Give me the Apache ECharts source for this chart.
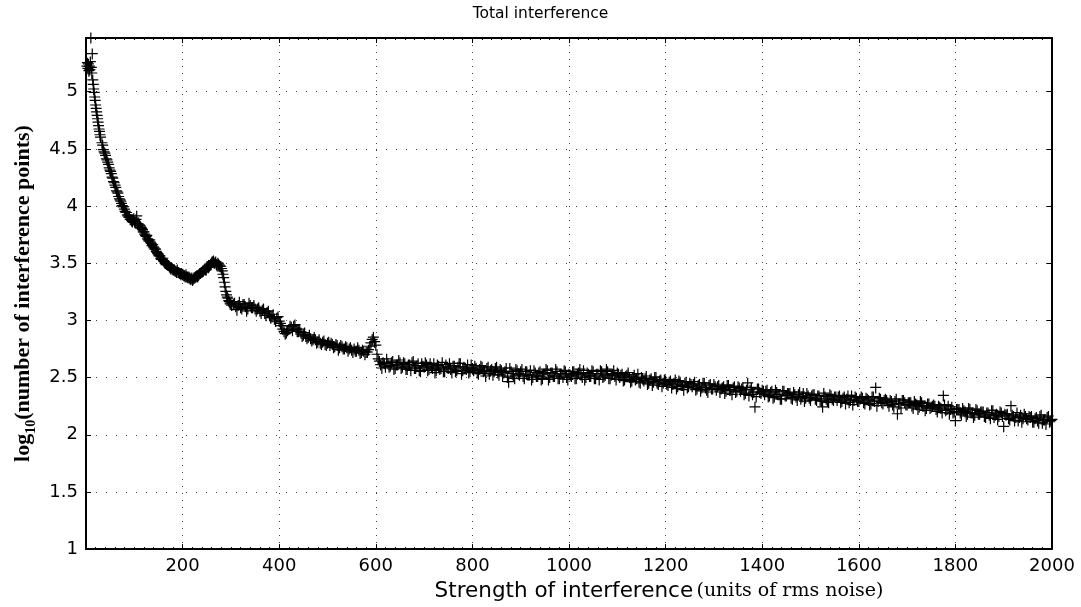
<!DOCTYPE html>
<html><head><meta charset="utf-8">
<script src="https://cdn.jsdelivr.net/npm/echarts@6/dist/echarts.min.js"></script>
<style>html,body{margin:0;padding:0;background:#fff}#c{width:1081px;height:607px}</style>
</head><body><div id="c"></div><script>
// x sampling grids (start, step) for the digitised segments
const xStartA = 2,     stepA = 1;
const xStartB = 33,    stepB = 3;
const xStartE = 34.5,  stepE = 3;
const xStartC = 305,   stepC = 5;
const xStartD = 307.5, stepD = 5;

// log10(number of interference points)
const yA = [
  5.22, 5.25, 5.20, 5.24, 5.18, 5.22, 5.19, 5.26, 5.47, 5.21,
  5.16, 5.33, 5.10, 5.06, 5.02, 4.99, 4.95, 4.92, 4.88, 4.85,
  4.82, 4.79, 4.76, 4.73, 4.70, 4.67, 4.65, 4.62, 4.60
];
const yB = [
  4.55, 4.49, 4.46, 4.41, 4.38, 4.33, 4.30, 4.25, 4.21, 4.18,
  4.13, 4.11, 4.06, 4.04, 4.00, 3.99, 3.95, 3.94, 3.91, 3.90,
  3.88, 3.86, 3.89, 3.85, 3.91, 3.84, 3.83, 3.81, 3.79, 3.77,
  3.74, 3.74, 3.70, 3.70, 3.67, 3.66, 3.63, 3.62, 3.59, 3.57,
  3.56, 3.53, 3.54, 3.51, 3.50, 3.49, 3.48, 3.46, 3.46, 3.44,
  3.44, 3.43, 3.44, 3.42, 3.41, 3.41, 3.40, 3.39, 3.40, 3.38,
  3.38, 3.36, 3.37, 3.36, 3.37, 3.38, 3.38, 3.40, 3.41, 3.42,
  3.43, 3.45, 3.44, 3.47, 3.47, 3.49, 3.51, 3.52, 3.50, 3.49,
  3.50, 3.48, 3.47, 3.43, 3.37, 3.29, 3.22, 3.19, 3.16, 3.15
];
const yE = [
  4.53, 4.47, 4.44, 4.40, 4.36, 4.31, 4.28, 4.24, 4.20, 4.16,
  4.12, 4.08, 4.05, 4.02, 3.99, 3.97, 3.94, 3.92, 3.90, 3.88,
  3.87, 3.88, 3.86, 3.88, 3.84, 3.83, 3.82, 3.80, 3.77, 3.75,
  3.73, 3.71, 3.69, 3.68, 3.65, 3.64, 3.62, 3.60, 3.58, 3.56,
  3.54, 3.53, 3.52, 3.50, 3.49, 3.48, 3.47, 3.45, 3.45, 3.44,
  3.43, 3.42, 3.42, 3.41, 3.40, 3.40, 3.39, 3.38, 3.38, 3.37,
  3.37, 3.36, 3.35, 3.37, 3.38, 3.39, 3.39, 3.41, 3.42, 3.43,
  3.44, 3.44, 3.46, 3.46, 3.48, 3.50, 3.51, 3.50, 3.51, 3.48,
  3.49, 3.47, 3.45, 3.40, 3.33, 3.25, 3.20, 3.17, 3.14, 3.13
];
const yC = [
  3.14, 3.12, 3.13, 3.11, 3.14, 3.12, 3.10, 3.13, 3.11, 3.10,
  3.10, 3.08, 3.09, 3.06, 3.07, 3.04, 3.03, 3.01, 3.02, 2.99,
  2.95, 2.90, 2.89, 2.92, 2.94, 2.95, 2.92, 2.90, 2.89, 2.87,
  2.86, 2.85, 2.84, 2.83, 2.83, 2.81, 2.80, 2.81, 2.79, 2.80,
  2.78, 2.79, 2.77, 2.78, 2.76, 2.77, 2.75, 2.76, 2.75, 2.74,
  2.75, 2.73, 2.74, 2.72, 2.73, 2.72, 2.74, 2.80, 2.85, 2.78,
  2.66, 2.61, 2.63, 2.59, 2.62, 2.60, 2.64, 2.58, 2.61, 2.63,
  2.59, 2.62, 2.57, 2.61, 2.63, 2.58, 2.60, 2.56, 2.62, 2.59,
  2.61, 2.57, 2.59, 2.62, 2.56, 2.60, 2.58, 2.55, 2.61, 2.58,
  2.57, 2.60, 2.55, 2.59, 2.62, 2.56, 2.58, 2.61, 2.55, 2.58,
  2.60, 2.54, 2.57, 2.59, 2.56, 2.58, 2.53, 2.57, 2.55, 2.59,
  2.52, 2.56, 2.54, 2.58, 2.46, 2.55, 2.51, 2.57, 2.53, 2.55,
  2.51, 2.55, 2.52, 2.56, 2.50, 2.54, 2.51, 2.55, 2.49, 2.53,
  2.56, 2.50, 2.54, 2.51, 2.55, 2.49, 2.53, 2.56, 2.50, 2.53,
  2.51, 2.55, 2.49, 2.54, 2.52, 2.56, 2.50, 2.53, 2.51, 2.55,
  2.49, 2.53, 2.56, 2.50, 2.52, 2.55, 2.49, 2.53, 2.51, 2.54,
  2.50, 2.53, 2.48, 2.52, 2.50, 2.47, 2.52, 2.49, 2.46, 2.50,
  2.47, 2.51, 2.45, 2.49, 2.46, 2.50, 2.44, 2.48, 2.45, 2.47,
  2.43, 2.47, 2.44, 2.48, 2.42, 2.46, 2.43, 2.45, 2.41, 2.45,
  2.42, 2.46, 2.40, 2.44, 2.41, 2.45, 2.39, 2.43, 2.40, 2.44,
  2.39, 2.43, 2.40, 2.42, 2.38, 2.43, 2.39, 2.41, 2.37, 2.42,
  2.38, 2.41, 2.36, 2.45, 2.39, 2.35, 2.24, 2.40, 2.37, 2.39,
  2.35, 2.39, 2.34, 2.38, 2.33, 2.37, 2.35, 2.31, 2.38, 2.34,
  2.36, 2.32, 2.37, 2.33, 2.35, 2.31, 2.36, 2.32, 2.34, 2.30,
  2.35, 2.31, 2.34, 2.30, 2.24, 2.33, 2.29, 2.35, 2.31, 2.33,
  2.30, 2.34, 2.29, 2.33, 2.31, 2.28, 2.34, 2.30, 2.32, 2.29,
  2.33, 2.28, 2.32, 2.30, 2.27, 2.33, 2.41, 2.29, 2.31, 2.27,
  2.31, 2.28, 2.30, 2.26, 2.29, 2.18, 2.27, 2.30, 2.28, 2.26,
  2.28, 2.25, 2.29, 2.26, 2.24, 2.28, 2.25, 2.23, 2.27, 2.24,
  2.26, 2.22, 2.25, 2.23, 2.34, 2.21, 2.25, 2.22, 2.19, 2.12,
  2.22, 2.19, 2.23, 2.20, 2.18, 2.22, 2.19, 2.17, 2.21, 2.18,
  2.20, 2.16, 2.19, 2.17, 2.21, 2.15, 2.18, 2.16, 2.19, 2.07,
  2.17, 2.14, 2.25, 2.16, 2.15, 2.12, 2.17, 2.14, 2.16, 2.13,
  2.15, 2.11, 2.14, 2.12, 2.16, 2.10, 2.13, 2.15, 2.11, 2.13
];
const yD = [
  3.15, 3.09, 3.16, 3.10, 3.14, 3.08, 3.15, 3.11, 3.13, 3.08,
  3.11, 3.06, 3.10, 3.04, 3.08, 3.02, 3.05, 2.99, 3.03, 2.97,
  2.92, 2.88, 2.91, 2.95, 2.91, 2.96, 2.90, 2.92, 2.86, 2.89,
  2.84, 2.87, 2.82, 2.85, 2.80, 2.83, 2.79, 2.82, 2.78, 2.81,
  2.80, 2.76, 2.79, 2.74, 2.78, 2.75, 2.77, 2.73, 2.76, 2.72,
  2.73, 2.76, 2.71, 2.74, 2.70, 2.72, 2.77, 2.83, 2.81, 2.70,
  2.64, 2.58, 2.62, 2.66, 2.59, 2.63, 2.57, 2.61, 2.65, 2.58,
  2.63, 2.57, 2.61, 2.56, 2.64, 2.58, 2.62, 2.55, 2.60, 2.63,
  2.56, 2.62, 2.58, 2.54, 2.61, 2.57, 2.63, 2.55, 2.59, 2.62,
  2.54, 2.60, 2.56, 2.62, 2.53, 2.59, 2.57, 2.54, 2.61, 2.56,
  2.58, 2.53, 2.60, 2.55, 2.51, 2.59, 2.56, 2.52, 2.58, 2.54,
  2.57, 2.51, 2.55, 2.50, 2.58, 2.53, 2.49, 2.56, 2.52, 2.57,
  2.49, 2.55, 2.52, 2.48, 2.56, 2.51, 2.54, 2.48, 2.53, 2.57,
  2.48, 2.54, 2.51, 2.57, 2.49, 2.53, 2.50, 2.55, 2.48, 2.52,
  2.55, 2.49, 2.53, 2.57, 2.50, 2.48, 2.54, 2.51, 2.56, 2.49,
  2.53, 2.48, 2.55, 2.51, 2.57, 2.49, 2.52, 2.56, 2.48, 2.53,
  2.52, 2.47, 2.51, 2.54, 2.46, 2.50, 2.48, 2.53, 2.45, 2.49,
  2.49, 2.44, 2.48, 2.43, 2.50, 2.45, 2.47, 2.42, 2.48, 2.44,
  2.46, 2.41, 2.45, 2.40, 2.47, 2.43, 2.39, 2.46, 2.42, 2.44,
  2.44, 2.39, 2.43, 2.38, 2.45, 2.41, 2.37, 2.44, 2.40, 2.42,
  2.42, 2.37, 2.41, 2.36, 2.43, 2.39, 2.35, 2.42, 2.38, 2.41,
  2.40, 2.35, 2.39, 2.34, 2.41, 2.37, 2.33, 2.40, 2.36, 2.38,
  2.38, 2.33, 2.37, 2.32, 2.39, 2.35, 2.31, 2.38, 2.34, 2.36,
  2.36, 2.31, 2.35, 2.30, 2.37, 2.33, 2.29, 2.36, 2.32, 2.34,
  2.35, 2.30, 2.34, 2.29, 2.36, 2.31, 2.28, 2.34, 2.30, 2.33,
  2.33, 2.28, 2.32, 2.27, 2.34, 2.30, 2.26, 2.33, 2.29, 2.31,
  2.32, 2.27, 2.31, 2.26, 2.33, 2.29, 2.25, 2.32, 2.28, 2.30,
  2.30, 2.25, 2.29, 2.24, 2.31, 2.27, 2.23, 2.30, 2.26, 2.28,
  2.28, 2.23, 2.27, 2.22, 2.29, 2.25, 2.21, 2.27, 2.23, 2.25,
  2.25, 2.20, 2.24, 2.19, 2.26, 2.22, 2.18, 2.24, 2.20, 2.22,
  2.22, 2.17, 2.21, 2.16, 2.23, 2.19, 2.15, 2.22, 2.18, 2.20,
  2.20, 2.15, 2.19, 2.14, 2.21, 2.17, 2.13, 2.20, 2.16, 2.18,
  2.18, 2.13, 2.17, 2.12, 2.19, 2.15, 2.11, 2.18, 2.14, 2.16,
  2.16, 2.11, 2.15, 2.10, 2.17, 2.13, 2.09, 2.16, 2.12
];

const titleText = 'Total interference';
const xNameMain = 'Strength of interference';
const xNameUnit = '(units of rms noise)';
const yNameLog = 'log';
const yNameSub = '10';
const yNameRest = '(number of interference points)';

function seg(x0, step, ys) { return ys.map((y, i) => [x0 + i * step, y]); }
const points = seg(xStartA, stepA, yA).concat(
  seg(xStartB, stepB, yB), seg(xStartE, stepE, yE),
  seg(xStartC, stepC, yC), seg(xStartD, stepD, yD));

const sans = 'DejaVu Sans';
const serif = 'Liberation Serif';
const plus = 'path://M0,4.45H11V5.65H0Z M4.9,0H6.1V11H4.9Z';

const borderLine = { show: true, onZero: false, lineStyle: { color: '#000', width: 2 } };
const tickIn = { show: true, inside: true, length: 5, lineStyle: { color: '#000', width: 1 } };
const plain = v => String(v);

const chart = echarts.init(document.getElementById('c'), null, { renderer: 'canvas' });
chart.setOption({
  animation: false,
  backgroundColor: '#fff',
  title: {
    text: titleText, left: 'center', top: 6, padding: 0,
    textStyle: { fontFamily: sans, fontSize: 15.5, fontWeight: 'normal', color: '#000' }
  },
  grid: { left: 86, right: 29, top: 38, bottom: 48, containLabel: false },
  xAxis: [{
    type: 'value', min: 0, max: 2000, interval: 200, position: 'bottom',
    axisLine: borderLine, axisTick: tickIn,
    minorTick: { show: true, splitNumber: 10, length: 2, lineStyle: { color: '#000', width: 1 } },
    axisLabel: { showMinLabel: false, margin: 8, fontFamily: sans, fontSize: 18, color: '#000', formatter: plain },
    splitLine: { show: true, lineStyle: { color: '#444', width: 1, type: [1, 6] } },
    name: '{a|' + xNameMain + '} {b|' + xNameUnit + '}',
    nameLocation: 'middle', nameGap: 18,
    nameTextStyle: {
      padding: [0, 0, 0, 180],
      rich: {
        a: { fontFamily: sans, fontSize: 21.5, color: '#000' },
        b: { fontFamily: 'DejaVu Serif', fontSize: 19, color: '#000' }
      }
    }
  }, {
    type: 'value', min: 0, max: 2000, interval: 200, position: 'top',
    axisLine: borderLine, axisTick: tickIn,
    minorTick: { show: true, splitNumber: 10, length: 2, lineStyle: { color: '#000', width: 1 } },
    axisLabel: { show: false }, splitLine: { show: false }
  }],
  yAxis: [{
    type: 'value', min: 1, max: 5.47, interval: 0.5, position: 'left',
    axisLine: borderLine, axisTick: tickIn,
    axisLabel: { showMaxLabel: false, margin: 8, fontFamily: sans, fontSize: 18, color: '#000', formatter: plain },
    splitLine: { show: true, lineStyle: { color: '#444', width: 1, type: [1, 9] } },
    name: '{a|' + yNameLog + '}{s|' + yNameSub + '}{a|' + yNameRest + '}',
    nameLocation: 'middle', nameGap: 47,
    nameTextStyle: {
      rich: {
        a: { fontFamily: serif, fontWeight: 'bold', fontSize: 22, color: '#000', lineHeight: 30 },
        s: { fontFamily: serif, fontWeight: 'bold', fontSize: 14, color: '#000', lineHeight: 15, verticalAlign: 'bottom' }
      }
    }
  }, {
    type: 'value', min: 1, max: 5.47, interval: 0.5, position: 'right',
    axisLine: borderLine, axisTick: tickIn,
    axisLabel: { show: false }, splitLine: { show: false }
  }],
  series: [{
    type: 'scatter', xAxisIndex: 0, yAxisIndex: 0,
    data: points, symbol: plus, symbolSize: 11, silent: true,
    itemStyle: { color: '#000', opacity: 1 }
  }]
});
</script></body></html>
